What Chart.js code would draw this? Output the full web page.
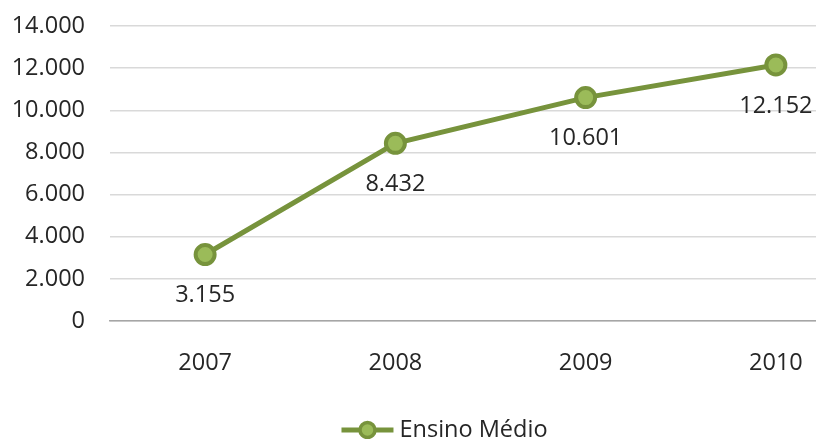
<!DOCTYPE html>
<html>
<head>
<meta charset="utf-8">
<script src="https://cdn.jsdelivr.net/npm/chart.js@4/dist/chart.umd.min.js"></script>
<style>
  html, body { margin: 0; padding: 0; background: #fff; overflow: hidden; }
  #wrap { width: 816px; height: 439px; overflow: hidden; }
</style>
</head>
<body>
<div id="wrap"><canvas id="myChart" width="922" height="439"></canvas></div>
<script>
const years = ['2007', '2008', '2009', '2010'];
const ensinoMedio = [3155, 8432, 10601, 12152];
const seriesName = 'Ensino Médio';

const lineColor = '#77933C';
const pointColor = '#9BBB59';
const textColor = '#262626';
const fontFamily = '"Open Sans", sans-serif';
const fontSize = 23.5;
const pad = { left: 12, right: 51, top: 26, bottom: 62 };

// 14000 -> "14.000"
function fmt(v) {
  return String(v).replace(/\B(?=(\d{3})+(?!\d))/g, '.');
}

// value labels under each point
const valueLabels = {
  id: 'valueLabels',
  afterDatasetsDraw(chart) {
    const ctx = chart.ctx;
    const meta = chart.getDatasetMeta(0);
    ctx.save();
    ctx.font = fontSize + 'px ' + fontFamily;
    ctx.fillStyle = textColor;
    ctx.textAlign = 'center';
    ctx.textBaseline = 'middle';
    meta.data.forEach(function(pt, i) {
      ctx.fillText(fmt(chart.data.datasets[0].data[i]), pt.x, pt.y + 41);
    });
    ctx.restore();
  }
};

// legend: line with marker + text, centred at the bottom
const bottomLegend = {
  id: 'bottomLegend',
  afterDraw(chart) {
    const ctx = chart.ctx;
    ctx.save();
    ctx.font = fontSize + 'px ' + fontFamily;
    const label = chart.data.datasets[0].label;
    const tw = ctx.measureText(label).width;
    const sw = 52, gap = 6;
    const total = sw + gap + tw;
    const cx = (pad.left + chart.width - pad.right) / 2 + 3;
    const x0 = cx - total / 2;
    const y = chart.height - 9;
    ctx.strokeStyle = lineColor;
    ctx.lineWidth = 5;
    ctx.beginPath();
    ctx.moveTo(x0, y);
    ctx.lineTo(x0 + sw, y);
    ctx.stroke();
    ctx.beginPath();
    ctx.arc(x0 + sw / 2, y, 7.5, 0, Math.PI * 2);
    ctx.fillStyle = pointColor;
    ctx.fill();
    ctx.lineWidth = 3.5;
    ctx.stroke();
    ctx.fillStyle = textColor;
    ctx.textBaseline = 'middle';
    ctx.fillText(label, x0 + sw + gap, y);
    ctx.restore();
  }
};

function noPad(scale) {
  scale.paddingTop = 0;
  scale.paddingBottom = 0;
  scale.paddingLeft = 0;
  scale.paddingRight = 0;
}

var ctx = document.getElementById('myChart').getContext('2d');
var myChart = new Chart(ctx, {
  type: 'line',
  data: {
    labels: years,
    datasets: [{
      label: seriesName,
      data: ensinoMedio,
      borderColor: lineColor,
      borderWidth: 5,
      backgroundColor: pointColor,
      pointBackgroundColor: pointColor,
      pointBorderColor: lineColor,
      pointBorderWidth: 4,
      pointRadius: 9.5,
      tension: 0
    }]
  },
  options: {
    responsive: false,
    animation: false,
    layout: { autoPadding: false, padding: pad },
    plugins: {
      legend: { display: false },
      tooltip: { enabled: false }
    },
    scales: {
      x: {
        offset: true,
        grid: { display: false, drawTicks: false },
        border: { display: true, color: '#a6a6a6', width: 1.5 },
        ticks: {
          padding: 28,
          color: textColor,
          font: { family: fontFamily, size: fontSize }
        },
        afterFit: function(scale) {
          scale.height = 56;
          noPad(scale);
        }
      },
      y: {
        min: 0,
        max: 14000,
        grid: { color: '#d9d9d9', lineWidth: 1.5, drawTicks: false },
        border: { display: false },
        ticks: {
          stepSize: 2000,
          padding: 25,
          color: textColor,
          font: { family: fontFamily, size: fontSize },
          callback: function(v) { return fmt(v); }
        },
        afterFit: function(scale) {
          scale.width = 98;
          noPad(scale);
        }
      }
    }
  },
  plugins: [valueLabels, bottomLegend]
});
</script>
</body>
</html>
